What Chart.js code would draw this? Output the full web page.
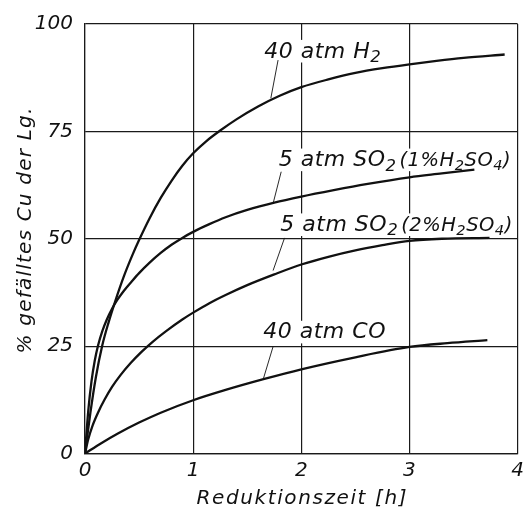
<!DOCTYPE html>
<html>
<head>
<meta charset="utf-8">
<script src="https://cdn.jsdelivr.net/npm/chart.js@4/dist/chart.umd.min.js"></script>
<style>
  html, body { margin: 0; padding: 0; background: #fff; }
  #wrap { width: 529px; height: 512px; }
</style>
</head>
<body>
<div id="wrap"><canvas id="c" width="529" height="512"></canvas></div>
<script>
// Axis ticks
const xTicks = [0, 1, 2, 3, 4];
const yTicks = [0, 25, 50, 75, 100];

// Reduction time [h] and precipitated Cu [%] for each reducing agent
const h2X  = [0, 0.05, 0.1, 0.16, 0.22, 0.28, 0.36, 0.44, 0.5, 0.6, 0.7, 0.8, 0.9, 1.0, 1.12, 1.25, 1.4, 1.6, 1.8, 2.0, 2.25, 2.5, 2.75, 3.0, 3.25, 3.5, 3.88];
const h2Y  = [0, 9.5, 17.7, 25.2, 30.7, 35.5, 41.3, 46.3, 49.7, 54.9, 59.5, 63.5, 67.0, 69.9, 72.7, 75.2, 77.8, 80.8, 83.3, 85.3, 87.1, 88.6, 89.7, 90.6, 91.4, 92.1, 92.9];

const so2aX = [0, 0.03, 0.06, 0.09, 0.12, 0.16, 0.2, 0.25, 0.3, 0.36, 0.43, 0.5, 0.6, 0.7, 0.8, 0.9, 1.0, 1.15, 1.3, 1.5, 1.75, 2.0, 2.3, 2.6, 3.0, 3.3, 3.6];
const so2aY = [0, 9.9, 16.8, 21.6, 25.1, 28.5, 31.1, 33.7, 35.8, 37.9, 40.0, 42.0, 44.5, 46.7, 48.6, 50.2, 51.6, 53.4, 55.0, 56.7, 58.4, 59.8, 61.3, 62.7, 64.3, 65.2, 66.1];

const so2bX = [0, 0.03, 0.07, 0.12, 0.18, 0.25, 0.33, 0.42, 0.52, 0.62, 0.75, 0.9, 1.0, 1.15, 1.3, 1.5, 1.75, 2.0, 2.25, 2.5, 2.75, 3.0, 3.3, 3.74];
const so2bY = [0, 3.3, 6.5, 9.5, 12.5, 15.5, 18.3, 21.0, 23.6, 25.9, 28.5, 31.2, 32.8, 35.0, 36.9, 39.2, 41.7, 44.0, 45.8, 47.3, 48.5, 49.5, 50.0, 50.2];

const coX = [0, 0.15, 0.3, 0.5, 0.7, 1.0, 1.3, 1.65, 2.0, 2.5, 3.0, 3.35, 3.72];
const coY = [0, 2.4, 4.6, 7.2, 9.5, 12.4, 14.8, 17.3, 19.6, 22.4, 24.8, 25.7, 26.4];

// Curve labels ("_" marks a subscript character) and their leader lines
const labelMain  = ['40 atm H_2', '5 atm SO_2', '5 atm SO_2', '40 atm CO'];
const labelNote  = ['', '(1%H_2SO_4)', '(2%H_2SO_4)', ''];
const labelX     = [1.657, 1.791, 1.806, 1.648];
const labelY     = [92.2, 66.9, 51.8, 26.8];
const leaderX1   = [1.785, 1.814, 1.845, 1.739];
const leaderY1   = [91.6, 65.6, 50.2, 24.9];
const leaderX2   = [1.718, 1.739, 1.739, 1.648];
const leaderY2   = [82.7, 58.2, 42.6, 17.3];

const xTitle = 'Reduktionszeit [h]';
const yTitle = '% gefälltes Cu der Lg.';

const INK = '#111';
const FAMILY = '"DejaVu Sans", "Liberation Sans", sans-serif';

function pts(xs, ys) { return xs.map((x, i) => ({ x, y: ys[i] })); }

function curve(xs, ys) {
  return {
    data: pts(xs, ys),
    borderColor: INK,
    borderWidth: 2.3,
    pointRadius: 0,
    fill: false,
    cubicInterpolationMode: 'monotone'
  };
}

// Draws text with "_x" subscripts; returns the total width
function richText(ctx, str, x, y, size, draw) {
  let cx = x;
  for (let i = 0; i < str.length; i++) {
    let ch = str[i];
    let sub = false;
    if (ch === '_' && i + 1 < str.length) { sub = true; ch = str[++i]; }
    const s = sub ? size * 0.75 : size;
    ctx.font = 'italic ' + s + 'px ' + FAMILY;
    const w = ctx.measureText(ch).width;
    if (draw) ctx.fillText(ch, cx, sub ? y + size * 0.2 : y);
    cx += w + 0.5;
  }
  return cx - x;
}

const MAIN_SIZE = 22, NOTE_SIZE = 19.5, GAP = 3;

const curveLabels = {
  id: 'curveLabels',
  beforeDatasetsDraw(chart) {
    // white knock-out behind each label so the grid stops at the text
    const { ctx, scales: { x, y } } = chart;
    ctx.save();
    ctx.fillStyle = '#fff';
    labelMain.forEach((main, i) => {
      const note = labelNote[i];
      const px = x.getPixelForValue(labelX[i]);
      const py = y.getPixelForValue(labelY[i]);
      let w = richText(ctx, main, px, py, MAIN_SIZE, false);
      if (note) w += GAP + richText(ctx, note, px, py, NOTE_SIZE, false);
      ctx.fillRect(px - 3, py - MAIN_SIZE * 0.8, w + 6, MAIN_SIZE * 0.8 + 5);
    });
    ctx.restore();
  },
  afterDatasetsDraw(chart) {
    const { ctx, scales: { x, y } } = chart;
    ctx.save();
    ctx.fillStyle = INK;
    ctx.strokeStyle = INK;
    ctx.textBaseline = 'alphabetic';
    ctx.textAlign = 'left';
    labelMain.forEach((main, i) => {
      const note = labelNote[i];
      const px = x.getPixelForValue(labelX[i]);
      const py = y.getPixelForValue(labelY[i]);
      const w = richText(ctx, main, px, py, MAIN_SIZE, true);
      if (note) richText(ctx, note, px + w + GAP, py, NOTE_SIZE, true);
      ctx.lineWidth = 0.9;
      ctx.beginPath();
      ctx.moveTo(x.getPixelForValue(leaderX1[i]), y.getPixelForValue(leaderY1[i]));
      ctx.lineTo(x.getPixelForValue(leaderX2[i]), y.getPixelForValue(leaderY2[i]));
      ctx.stroke();
    });
    ctx.restore();
  },
  afterDraw(chart) {
    // axis titles
    const { ctx, chartArea: a } = chart;
    ctx.save();
    ctx.fillStyle = INK;
    ctx.font = 'italic 20px ' + FAMILY;
    ctx.letterSpacing = '1.6px';
    ctx.textAlign = 'center';
    ctx.textBaseline = 'alphabetic';
    ctx.fillText(xTitle, (a.left + a.right) / 2 + 1, 504);
    ctx.letterSpacing = '1.2px';
    ctx.translate(31, 230);
    ctx.rotate(-Math.PI / 2);
    ctx.fillText(yTitle, 0, 0);
    ctx.restore();
  }
};

const tickFont = { family: FAMILY, style: 'italic', size: 20 };

new Chart(document.getElementById('c'), {
  type: 'line',
  data: {
    datasets: [curve(h2X, h2Y), curve(so2aX, so2aY), curve(so2bX, so2bY), curve(coX, coY)]
  },
  options: {
    responsive: false,
    animation: false,
    devicePixelRatio: 1,
    layout: { padding: { top: 18.5, right: 7, bottom: 0, left: 0 } },
    plugins: { legend: { display: false }, tooltip: { enabled: false } },
    scales: {
      x: {
        type: 'linear',
        min: xTicks[0],
        max: xTicks[xTicks.length - 1],
        afterBuildTicks: s => { s.ticks = xTicks.map(v => ({ value: v })); },
        afterFit: s => { s.height = 58.5; },
        grid: { color: '#1a1a1a', lineWidth: 1.2, drawTicks: false },
        border: { color: '#1a1a1a', width: 1.2 },
        ticks: { font: tickFont, color: INK, padding: 5, maxRotation: 0 }
      },
      y: {
        type: 'linear',
        min: yTicks[0],
        max: yTicks[yTicks.length - 1],
        afterBuildTicks: s => { s.ticks = yTicks.map(v => ({ value: v })); },
        afterFit: s => { s.width = 85; },
        grid: { color: '#1a1a1a', lineWidth: 1.2, drawTicks: false },
        border: { color: '#1a1a1a', width: 1.2 },
        ticks: { font: tickFont, color: INK, padding: 12 }
      }
    }
  },
  plugins: [curveLabels]
});
</script>
</body>
</html>
